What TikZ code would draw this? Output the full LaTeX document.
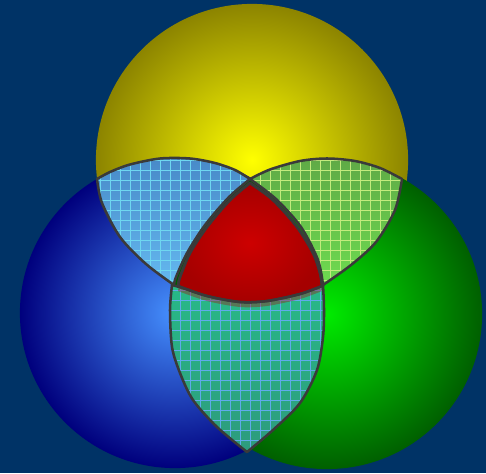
\documentclass[tikz,border=0pt]{standalone}

\definecolor{bgblue}{RGB}{0,51,102}
\definecolor{rimgray}{RGB}{58,58,58}

% the four region outlines, in pixel units
\newcommand{\ulregion}{plot[smooth] coordinates {(97,179) (110,172) (130,164.5) (160,158.5) (190,158.5) (215,163) (235,170) (250,179)}
  -- plot[smooth] coordinates {(250,179) (229,197) (205,225) (187,253) (176,277) (174,285)}
  -- plot[smooth] coordinates {(174,285) (146,264) (120,237) (102,203) (97,179)} -- cycle}
\newcommand{\urregion}{plot[smooth] coordinates {(250,179) (270,169.5) (300,161) (327,158.5) (355,161) (380,168) (402,179)}
  -- plot[smooth] coordinates {(402,179) (395,210) (376,242) (351,265) (323,285)}
  -- plot[smooth] coordinates {(323,285) (318,260) (301,227) (276,199) (250,179)} -- cycle}
\newcommand{\loregion}{plot[smooth] coordinates {(172,285) (207,294) (250,301) (290,296) (323,285)}
  -- plot[smooth] coordinates {(323,285) (324,310) (323,337) (317,370) (300,403) (273,430) (247,452)}
  -- plot[smooth] coordinates {(247,452) (217,427) (193,400) (180,373) (172,347) (170,310) (172,285)} -- cycle}
\newcommand{\midregion}{plot[smooth] coordinates {(250,183) (273,200) (297,227) (313,253) (320,273) (322,286)}
  -- plot[smooth] coordinates {(322,286) (300,294) (267,301) (240,302) (207,296) (178,286)}
  -- plot[smooth] coordinates {(178,286) (180,277) (190,253) (207,227) (230,200) (250,183)} -- cycle}

\begin{document}
\begin{tikzpicture}[x=0.01cm, y=-0.01cm, line join=round,
    disc/.style={circle, minimum size=3.1cm, inner sep=0pt, shading=radial},
    rim/.style={draw=rimgray, line width=0.72pt},
    mesh/.style={step=0.1cm, line width=0.3pt}]
  \fill[bgblue] (0,0) rectangle (486,473);
  \useasboundingbox (0,0) rectangle (486,473);

  % the three sets
  \node[disc, minimum size=3.12cm, inner color={rgb,255:red,255;green,255;blue,0}, outer color={rgb,255:red,140;green,132;blue,0}] (ylw) at (252,160) {};
  \node[disc, inner color={rgb,255:red,70;green,145;blue,255}, outer color={rgb,255:red,0;green,0;blue,125}] (blu) at (175,313) {};
  \node[disc, inner color={rgb,255:red,0;green,235;blue,0}, outer color={rgb,255:red,0;green,95;blue,0}] (grn) at (327,314) {};

  % pairwise overlaps
  \fill[top color={rgb,255:red,72;green,138;blue,200}, bottom color={rgb,255:red,100;green,185;blue,240}] \ulregion;
  \begin{scope}
    \clip \ulregion;
    \draw[mesh, draw={rgb,255:red,110;green,215;blue,240}] (0,473) grid (486,0);
  \end{scope}
  \draw[rim] \ulregion;

  \fill[top color={rgb,255:red,95;green,170;blue,70}, bottom color={rgb,255:red,110;green,220;blue,80}] \urregion;
  \begin{scope}
    \clip \urregion;
    \draw[mesh, draw={rgb,255:red,195;green,235;blue,125}] (0,473) grid (486,0);
  \end{scope}
  \draw[rim] \urregion;

  \fill[top color={rgb,255:red,40;green,185;blue,135}, bottom color={rgb,255:red,45;green,155;blue,125}] \loregion;
  \begin{scope}
    \clip \loregion;
    \draw[mesh, draw={rgb,255:red,95;green,170;blue,235}] (0,473) grid (486,0);
  \end{scope}
  \draw[rim] \loregion;

  % centre, all three
  \fill[red!70!black, opacity=0.35, shift={(0,5)}] \midregion;
  \fill[rim, inner color={rgb,255:red,205;green,0;blue,0}, outer color={rgb,255:red,165;green,0;blue,0}] \midregion;
  \draw[rim] \midregion;
\end{tikzpicture}
\end{document}
